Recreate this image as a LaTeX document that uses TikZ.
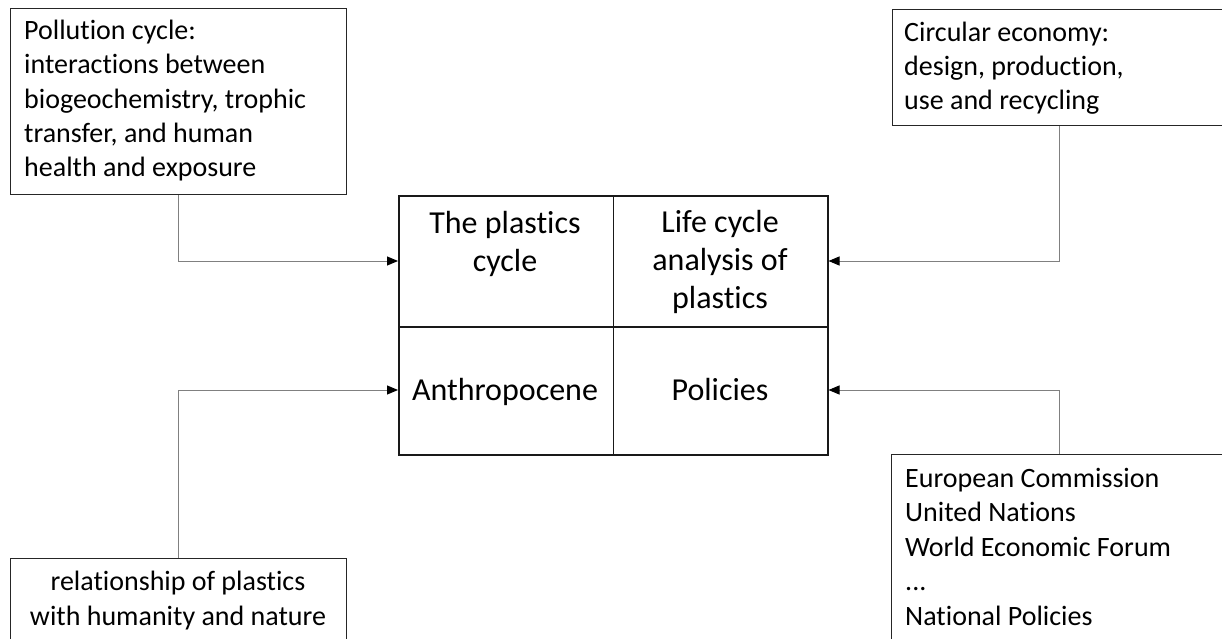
\documentclass[tikz,border=0pt]{standalone}
\usepackage{fontspec}
\setmainfont{Carlito}[Ligatures={NoCommon}]
\usetikzlibrary{arrows.meta}
\begin{document}
\begin{tikzpicture}[x=1pt,y=-1pt,
  box/.style={draw=black!85,line width=1.3pt,rectangle,inner sep=0pt},
  cell/.style={draw=black!90,line width=1.5pt,rectangle,inner sep=0pt,minimum width=214.5pt,align=center,font=\fontsize{32}{38}\selectfont},
  txt/.style={inner sep=0pt,align=left,font=\fontsize{28}{34.4}\selectfont},
  conn/.style={draw=black!50,line width=1pt,-{Triangle[length=11pt,width=9pt,color=black]}}]
\useasboundingbox (0,0) rectangle (1222,639);
\clip (0,0) rectangle (1222,639);
% outer boxes
\node[box,anchor=north west,minimum width=336pt,minimum height=186pt] (pc) at (10,8) {};
\node[box,anchor=north west,minimum width=340pt,minimum height=116pt] (ce) at (892,9) {};
\node[box,anchor=north west,minimum width=340pt,minimum height=200pt] (ep) at (891,454) {};
\node[box,anchor=north west,minimum width=336pt,minimum height=100pt] (rel) at (10,558) {};
% texts (anchor base = baseline of last line)
\node[txt,anchor=base west] (pct) at (24,177) {Pollution cycle:\\interactions between\\biogeochemistry, trophic\\transfer, and human\\health and exposure};
\node[txt,anchor=base west] (cet) at (904,110) {Circular economy:\\design, production,\\use and recycling};
\node[txt,anchor=base west] (ept) at (905,625) {European Commission\\United Nations\\World Economic Forum\\...\\National Policies};
\node[txt,anchor=base,align=center] (relt) at (178,625) {relationship of plastics\\with humanity and nature};
% grid
\node[cell,anchor=north west,minimum height=131pt] (tl) at (398,195) {};
\node[cell,anchor=north west,minimum height=131pt] (tr) at (612.5,195) {};
\node[cell,anchor=north west,minimum height=128pt] (bl) at (398,326) {};
\node[cell,anchor=north west,minimum height=128pt] (br) at (612.5,326) {};
\node[cell,draw=none,anchor=base] (tlt) at (505,271) {The plastics\\cycle};
\node[cell,draw=none,anchor=base] (trt) at (720,308) {Life cycle\\analysis of\\plastics};
\node[cell,draw=none,anchor=base] (blt) at (505,400) {Anthropocene};
\node[cell,draw=none,anchor=base] (brt) at (720,400) {Policies};
% connectors
\coordinate (a1) at (tl.west |- 0,261);
\coordinate (a2) at (bl.west |- 0,390);
\coordinate (a3) at (tr.east |- 0,261);
\coordinate (a4) at (br.east |- 0,390);
\draw[conn] (pc.south -| 178,0) |- (a1);
\draw[conn] (rel.north -| 178,0) |- (a2);
\draw[conn] (ce.south -| 1059,0) |- (a3);
\draw[conn] (ep.north -| 1059,0) |- (a4);
\end{tikzpicture}
\end{document}
